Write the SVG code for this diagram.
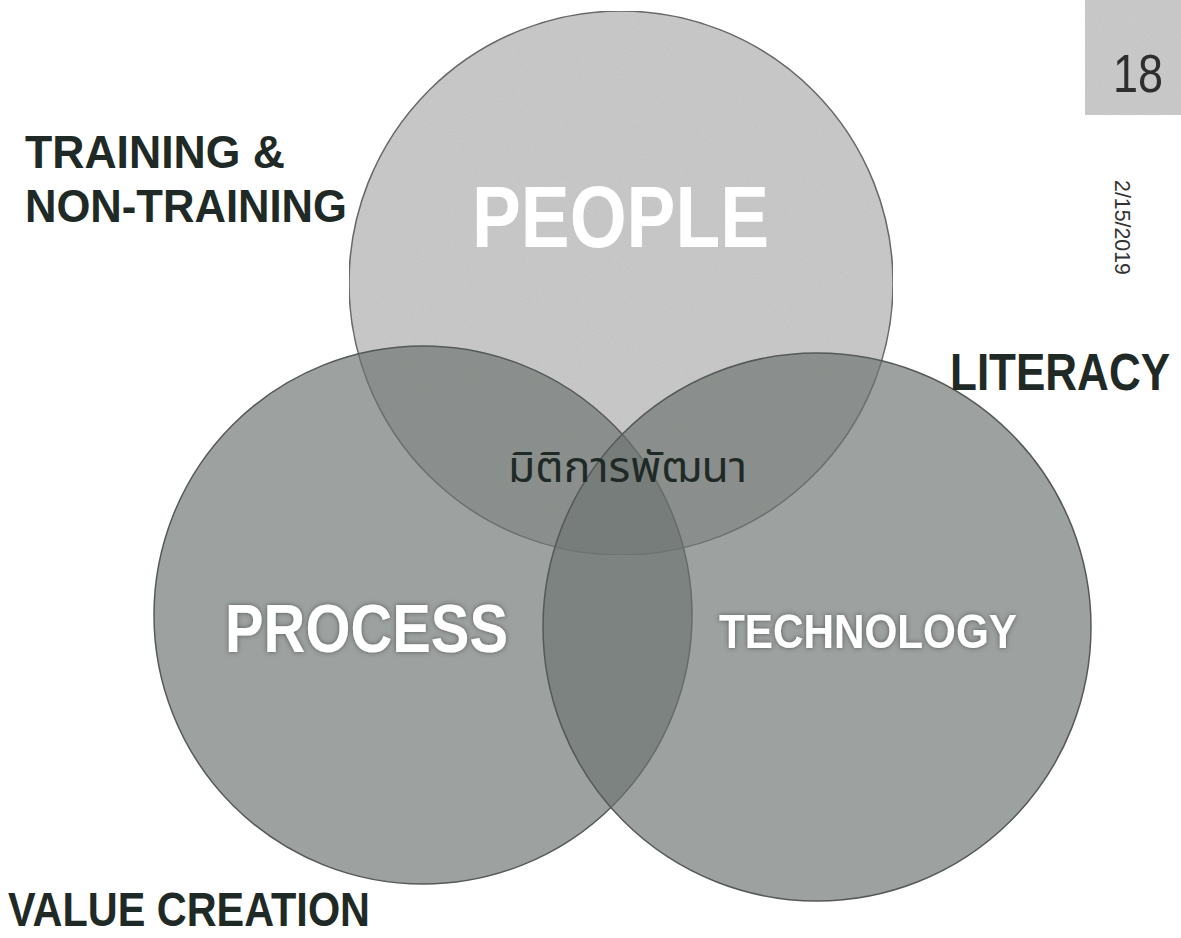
<svg xmlns="http://www.w3.org/2000/svg" width="1181" height="938" viewBox="0 0 1181 938">
  <style>
    .lbl { font-family: "Liberation Sans", "DejaVu Sans", sans-serif; font-weight: bold; fill: #1f2a26; }
    .inner { font-family: "Liberation Sans", "DejaVu Sans", sans-serif; font-weight: bold; fill: #ffffff; }
    .thai { font-family: "Noto Sans Thai", "Noto Sans Thai Looped", "Noto Sans", "DejaVu Sans", sans-serif; fill: #1f2a26; }
  </style>
  <defs>
    <filter id="glow" x="-10%" y="-30%" width="120%" height="160%">
      <feGaussianBlur in="SourceAlpha" stdDeviation="2.5" result="b"/>
      <feFlood flood-color="#3c423f" flood-opacity="0.75"/>
      <feComposite in2="b" operator="in" result="s"/>
      <feMerge><feMergeNode in="s"/><feMergeNode in="SourceGraphic"/></feMerge>
    </filter>
    <filter id="grain" x="0" y="0" width="100%" height="100%">
      <feTurbulence type="fractalNoise" baseFrequency="0.9" numOctaves="2" seed="3" result="n"/>
      <feColorMatrix in="n" type="matrix" values="0 0 0 0 0  0 0 0 0 0  0 0 0 0 0  0 0 0 0.12 0" result="na"/>
      <feComposite in="na" in2="SourceGraphic" operator="in" result="nc"/>
      <feMerge><feMergeNode in="SourceGraphic"/><feMergeNode in="nc"/></feMerge>
    </filter>
  </defs>

  <rect x="0" y="0" width="1181" height="938" fill="#ffffff"/>

  <g id="page-number">
    <rect x="1085" y="0" width="96" height="115" fill="#cdcdcd" filter="url(#grain)"/>
    <text x="1113" y="92" font-family="Liberation Sans, sans-serif" font-size="54" fill="#2e2e2e" textLength="50" lengthAdjust="spacingAndGlyphs">18</text>
  </g>
  <g id="date">
    <text transform="translate(1115,180) rotate(90)" font-family="Liberation Sans, sans-serif" font-size="22" fill="#333333" textLength="95" lengthAdjust="spacingAndGlyphs">2/15/2019</text>
  </g>

  <g id="people">
    <circle cx="621" cy="283" r="272" fill="#cbcccb" stroke="#6a6d6b" stroke-width="1.5" filter="url(#grain)"/>
  </g>
  <g id="process">
    <circle cx="423" cy="615" r="269" fill="#6e7471" fill-opacity="0.68" stroke="#555a57" stroke-width="1.5"/>
  </g>
  <g id="technology">
    <circle cx="817" cy="627" r="274" fill="#6e7471" fill-opacity="0.68" stroke="#555a57" stroke-width="1.5"/>
  </g>

  <g id="labels-inner">
    <text class="inner" x="472" y="247" font-size="88" textLength="297" lengthAdjust="spacingAndGlyphs">PEOPLE</text>
    <text class="inner" x="225" y="652" font-size="68" textLength="283" lengthAdjust="spacingAndGlyphs" filter="url(#glow)">PROCESS</text>
    <text class="inner" x="719" y="648" font-size="49" textLength="298" lengthAdjust="spacingAndGlyphs" filter="url(#glow)">TECHNOLOGY</text>
    <text class="thai" x="508" y="482" font-size="42" textLength="239" lengthAdjust="spacingAndGlyphs">มิติการพัฒนา</text>
  </g>

  <g id="labels-outer">
    <text class="lbl" x="25" y="168" font-size="46" textLength="260" lengthAdjust="spacingAndGlyphs">TRAINING &amp;</text>
    <text class="lbl" x="25" y="222" font-size="46" textLength="322" lengthAdjust="spacingAndGlyphs">NON-TRAINING</text>
    <text class="lbl" transform="translate(950,390) scale(0.863,1)" x="0" y="0" font-size="51">LITERACY</text>
    <text class="lbl" x="8" y="926" font-size="49" textLength="362" lengthAdjust="spacingAndGlyphs">VALUE CREATION</text>
  </g>
  <g id="connectors"/>
</svg>
